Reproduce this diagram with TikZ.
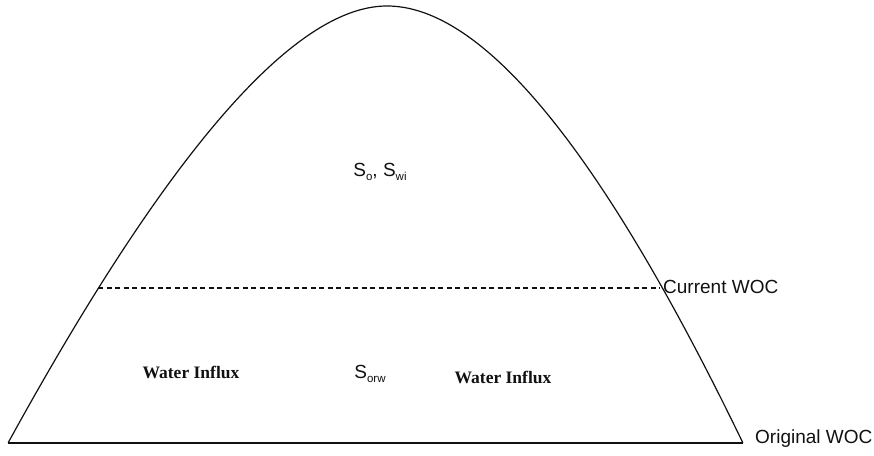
\documentclass[tikz,border=0pt]{standalone}
\usepackage{fontspec}
\setmainfont{Liberation Sans}
\newfontfamily\timesfont{Liberation Serif}
\usepackage{tikz}
\usetikzlibrary{calc}
\definecolor{INK}{HTML}{111111}
\newcommand{\subtxt}[1]{\raisebox{-0.22em}{\fontsize{11.5}{12}\selectfont #1}}

\begin{document}
\begin{tikzpicture}[x=1pt,y=-1pt]
\tikzset{rim/.style={line width=1.2pt,INK,line join=round},woc/.style={line width=1.1pt,INK,dash pattern=on 5pt off 3.5pt},
 lbl/.style={inner sep=0pt,anchor=base,font=\fontsize{19}{22}\selectfont,text=INK},
 side/.style={lbl,anchor=base west},influx/.style={lbl,font=\timesfont\bfseries\fontsize{17.5}{20}\selectfont}}
\useasboundingbox (0,0) rectangle (874,455);
% dome of the reservoir, apex at (387,6)
\coordinate (bl) at (8,443);\coordinate (br) at (743,443);
\coordinate (cl) at (98,288);\coordinate (cr) at (660,288);
\draw[rim] plot[domain=20.9:0,samples=120,variable=\sq] ({387-13.3*\sq-0.231*\sq*\sq},{6+\sq*\sq})
 -- plot[domain=0:20.9,samples=120,variable=\sq] ({387+13.85*\sq+0.152*\sq*\sq},{6+\sq*\sq});
% contacts
\draw[rim] (bl) -- (br);
\draw[woc] (cl) -- (cr);
\node[side] (owoc) at (755,443) {Original WOC};
\node[side] (cwoc) at (663,293) {Current WOC};
% saturations
\node[lbl] (sowi) at (380,176) {S\subtxt{o}, S\subtxt{wi}};
\node[lbl] (sorw) at (370,378) {S\subtxt{orw}};
\node[influx] (wil) at (191,378) {Water Influx};
\node[influx] (wir) at (503,383) {Water Influx};
\end{tikzpicture}
\end{document}
